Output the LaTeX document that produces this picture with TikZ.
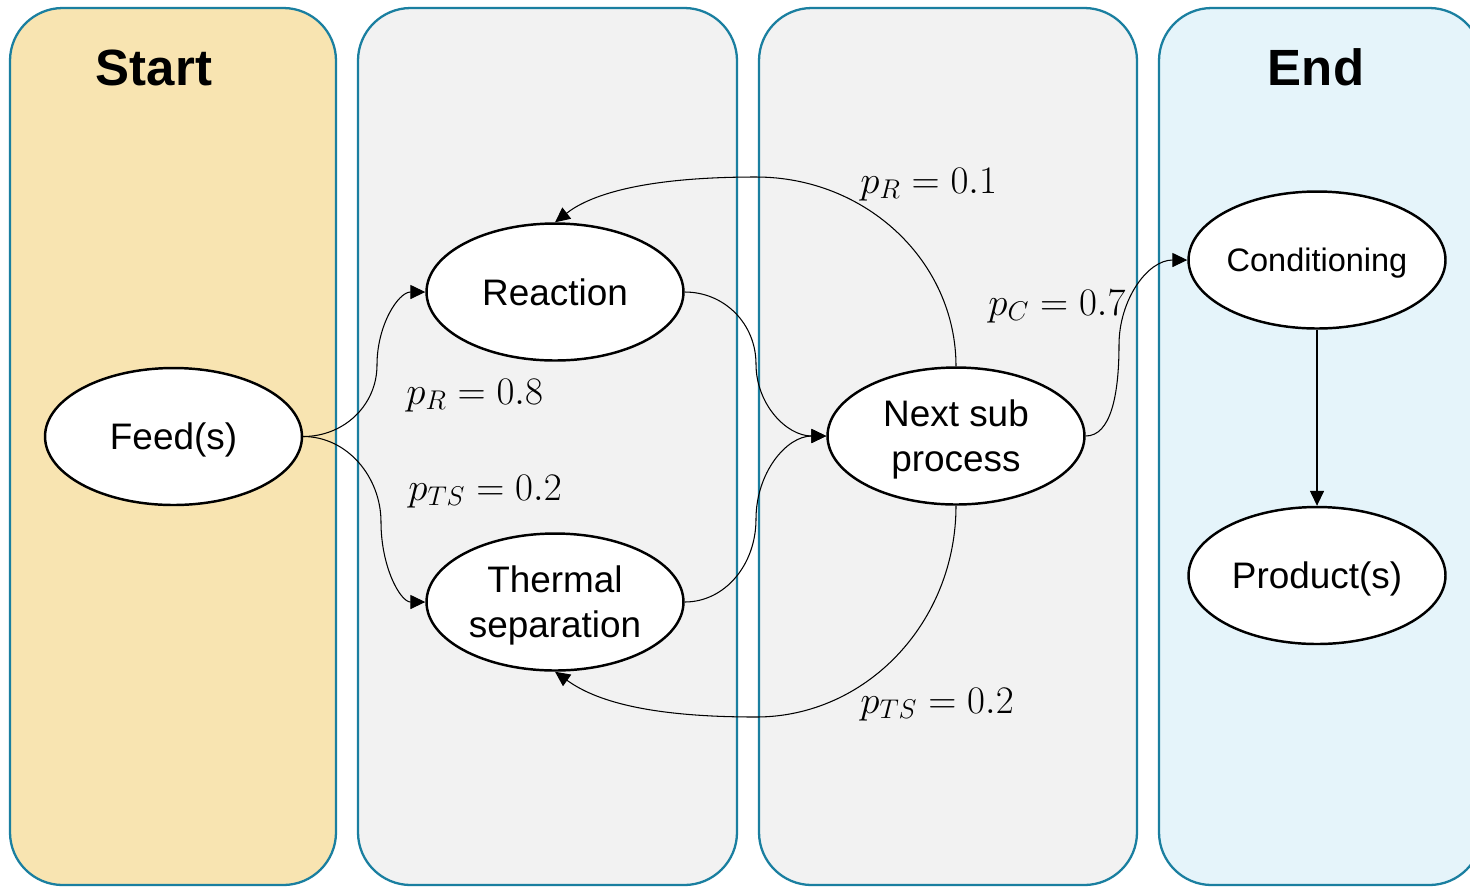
\documentclass[tikz,border=0pt]{standalone}
\usepackage{graphicx}
\usepackage{fontspec}
\setmainfont{Liberation Sans}
\usetikzlibrary{arrows.meta,shapes.geometric}
\definecolor{pborder}{HTML}{1A7FA0}
\definecolor{pstart}{HTML}{F8E4B1}
\definecolor{pgray}{HTML}{F2F2F2}
\definecolor{pend}{HTML}{E5F4FA}
\newcommand{\mlbl}[1]{\scalebox{1.07}{$#1$}}
\begin{document}
\begin{tikzpicture}[x=0.02cm,y=-0.02cm,
  panel/.style={draw=pborder,line width=1.3pt,rounded corners=30pt},
  proc/.style={ellipse,draw=black,line width=1.4pt,fill=white,minimum width=5.14cm,minimum height=2.74cm,inner sep=0pt,align=center,text depth=0pt,font=\fontsize{21}{25.5}\selectfont},
  conn/.style={line width=0.6pt,-{Triangle[length=8.5pt,width=8pt]}},
  lbl/.style={inner sep=0pt,anchor=base west,font=\fontsize{20.74}{25}\selectfont},
  ttl/.style={inner sep=0pt,anchor=base,font=\fontsize{29}{34}\selectfont\bfseries}]
\clip (0,0) rectangle (1470,887);
\fill[white] (0,0) rectangle (1470,887);
% panels
\draw[panel,fill=pstart] (10,8) rectangle (336,885);
\draw[panel,fill=pgray] (358,8) rectangle (737,885);
\draw[panel,fill=pgray] (759,8) rectangle (1137,885);
\draw[panel,fill=pend] (1159,8) rectangle (1482,885);
% titles
\node[ttl] (tstart) at (154,85) {Start};
\node[ttl] (tend) at (1316,85) {End};
% nodes
\node[proc] (feed) at (173.5,436.5) {Feed(s)};
\node[proc] (react) at (555,292) {Reaction};
\node[proc] (therm) at (555,602) {Thermal\\separation};
\node[proc] (next) at (956,436) {Next sub\\process};
\node[proc,font=\fontsize{18.5}{22}\selectfont] (cond) at (1317,260) {Conditioning};
\node[proc] (prod) at (1317,575.5) {Product(s)};
% waypoints
\coordinate (m1) at (377,365);
\coordinate (m2) at (381,522);
\coordinate (m3) at (756,364);
\coordinate (m4) at (756,519);
\coordinate (m5) at (756,177);
\coordinate (m6) at (756,717);
\coordinate (m7) at (1119,345);
% connectors
\draw[conn] (feed.east) .. controls +(41,0) and +(0,40) .. (m1) .. controls +(0,-40) and +(-27,0) .. (react.west);
\draw[conn] (feed.east) .. controls +(44,0) and +(0,-45) .. (m2) .. controls +(0,45) and +(-25,0) .. (therm.west);
\draw[conn] (react.east) .. controls +(40,0) and +(0,-40) .. (m3) .. controls +(0,40) and +(-40,0) .. (next.west);
\draw[conn] (therm.east) .. controls +(40,0) and +(0,46) .. (m4) .. controls +(0,-46) and +(-40,0) .. (next.west);
\draw[conn] (next.north) .. controls +(0,-105) and +(110,0) .. (m5) .. controls +(-120,0) and +(32,-25) .. (react.north);
\draw[conn] (next.south) .. controls +(0,117) and +(110,0) .. (m6) .. controls +(-120,0) and +(35,25) .. (therm.south);
\draw[conn] (next.east) .. controls +(25,0) and +(0,50) .. (m7) .. controls +(0,-45) and +(-40,0) .. (cond.west);
\draw[conn] (cond.south) -- (prod.north);
% labels
\node[lbl] (l1) at (406,404) {\mlbl{p_R = 0.8}};
\node[lbl] (l2) at (408,500) {\mlbl{p_{TS} = 0.2}};
\node[lbl] (l3) at (860,193) {\mlbl{p_R = 0.1}};
\node[lbl] (l4) at (988,315) {\mlbl{p_C = 0.7}};
\node[lbl] (l5) at (860,713) {\mlbl{p_{TS} = 0.2}};
\end{tikzpicture}
\end{document}
